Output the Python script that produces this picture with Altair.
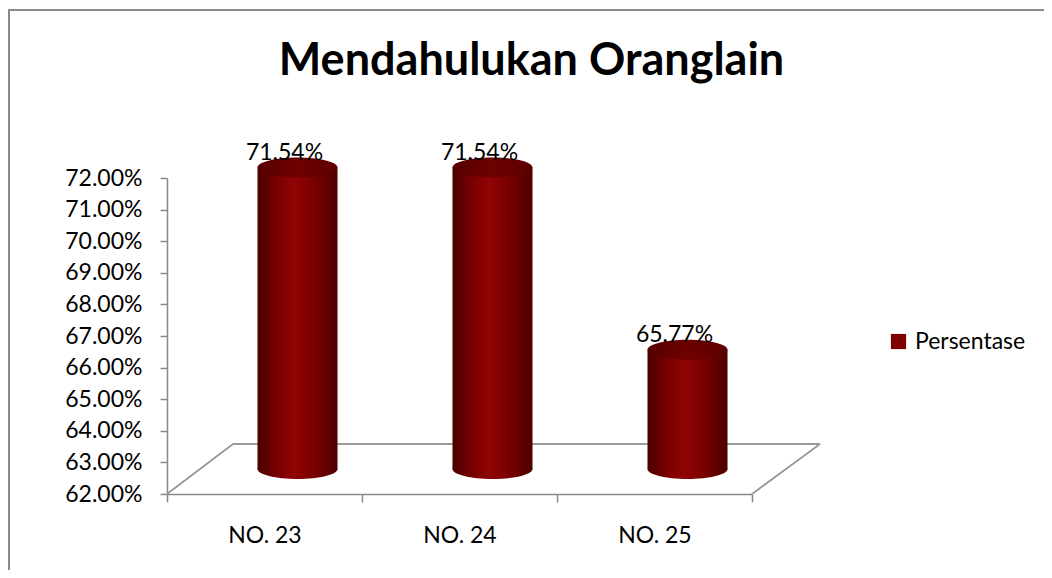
import altair as alt
import pandas as pd

categories = ["NO. 23", "NO. 24", "NO. 25"]
values = [0.7154, 0.7154, 0.6577]
series = ["Persentase", "Persentase", "Persentase"]
y_ticks = [0.62, 0.63, 0.64, 0.65, 0.66, 0.67, 0.68, 0.69, 0.70, 0.71, 0.72]
y_min, y_max = 0.62, 0.72

df = pd.DataFrame({"cat": categories, "val": values, "series": series})

FONT = "Lato"
W, H = 585, 316
DX, DY = 66, -50          # depth of the 3D floor
CX, CY = 33, -25          # cylinder offset (mid-depth)
BAR_W = 80

body_grad = alt.Gradient(
    gradient="linear", x1=0, x2=1, y1=0, y2=0,
    stops=[
        alt.GradientStop(color="#4a0000", offset=0),
        alt.GradientStop(color="#7a0000", offset=0.25),
        alt.GradientStop(color="#900404", offset=0.45),
        alt.GradientStop(color="#7a0000", offset=0.7),
        alt.GradientStop(color="#4c0000", offset=1),
    ],
)
cap_grad = alt.Gradient(
    gradient="linear", x1=0, x2=1, y1=0, y2=0,
    stops=[
        alt.GradientStop(color="#560000", offset=0),
        alt.GradientStop(color="#6e0000", offset=0.5),
        alt.GradientStop(color="#5c0000", offset=1),
    ],
)
ellipse = "M-1,0 A1,0.25 0 1,0 1,0 A1,0.25 0 1,0 -1,0 Z"

x_axis = alt.Axis(labelAngle=0, labelFont=FONT, labelFontSize=23, labelColor="#000000",
                  labelPadding=22, tickBand="extent", tickSize=8, tickColor="#888888",
                  domainColor="#888888", domainWidth=1.5, tickWidth=1.5, grid=False)
xenc = alt.X("cat:N", sort=categories, title=None,
             scale=alt.Scale(paddingInner=0, paddingOuter=0), axis=x_axis)

yscale = alt.Scale(domain=[y_min, y_max], zero=False, nice=False)
y_axis = alt.Axis(values=y_ticks, format=".2%", labelFont=FONT, labelFontSize=23,
                  labelColor="#000000", labelPadding=18, tickSize=7, tickColor="#888888",
                  domainColor="#888888", domainWidth=1.5, tickWidth=1.5, grid=False,
                  labelOverlap=False, labelBound=False)
yenc = alt.Y("val:Q", scale=yscale, title=None, axis=y_axis)
ybase = alt.YDatum(y_min, scale=yscale, title=None, axis=y_axis)

base = alt.Chart(df)

# chart border (top and left visible in the window)
border = base.mark_rect(fill="transparent", stroke="#8a8a8a", strokeWidth=2).encode(
    x=alt.value(-158), x2=alt.value(W + 320), y=alt.value(-168), y2=alt.value(H + 120)
)

# 3D floor outline
floor_back = base.mark_rule(color="#999999", strokeWidth=1.5, xOffset=DX, x2Offset=DX + 2, yOffset=DY).encode(
    x=alt.value(0), x2=alt.value(W), y=ybase
)
floor_left = base.mark_rule(color="#999999", strokeWidth=1.5, x2Offset=DX, y2Offset=DY).encode(
    x=alt.value(0), x2=alt.value(0), y=ybase, y2=alt.datum(y_min)
)
floor_right = base.mark_rule(color="#999999", strokeWidth=1.5, x2Offset=DX + 2, y2Offset=DY).encode(
    x=alt.value(W), x2=alt.value(W), y=ybase, y2=alt.datum(y_min)
)

bottom_cap = base.mark_point(shape=ellipse, filled=True, fill=body_grad, opacity=1, strokeWidth=0,
                             size=BAR_W * BAR_W, xOffset=CX, yOffset=CY).encode(
    x=xenc, y=ybase
)

bars = base.mark_bar(size=BAR_W, fill=body_grad, xOffset=CX, x2Offset=CX, yOffset=CY, y2Offset=CY).encode(
    x=xenc, y=yenc, y2=alt.datum(y_min),
    color=alt.Color("series:N", scale=alt.Scale(range=["#7f0000"]), title=None,
                    legend=alt.Legend(orient="none", legendX=720, legendY=152, symbolType="square",
                                      symbolSize=230, symbolStrokeWidth=0, labelFont=FONT,
                                      labelFontSize=23, labelColor="#000000", symbolOpacity=1,
                                      labelOffset=5)),
)

top_cap = base.mark_point(shape=ellipse, filled=True, fill=cap_grad, opacity=1, strokeWidth=0,
                          size=BAR_W * BAR_W, xOffset=CX, yOffset=CY).encode(
    x=xenc, y=yenc
)

labels = base.mark_text(font=FONT, fontSize=23, color="#000000", dx=20, dy=-40, baseline="middle").encode(
    x=xenc, y=yenc, text=alt.Text("val:Q", format=".2%")
)

chart = alt.layer(border, floor_back, floor_left, floor_right, bottom_cap, bars, top_cap, labels).properties(
    width=W, height=H,
    background="#ffffff",
    title=alt.TitleParams("Mendahulukan Oranglain", font=FONT, fontSize=45, fontWeight="bold",
                          color="#000000", anchor="middle", dx=72, dy=111, offset=0, baseline="alphabetic"),
    autosize=alt.AutoSizeParams(type="none"),
    padding={"left": 159, "top": 170, "right": 292, "bottom": 76},
).configure_view(stroke="transparent", strokeWidth=0)

chart.save("out.html", embed_options={"renderer": "svg", "actions": False})
